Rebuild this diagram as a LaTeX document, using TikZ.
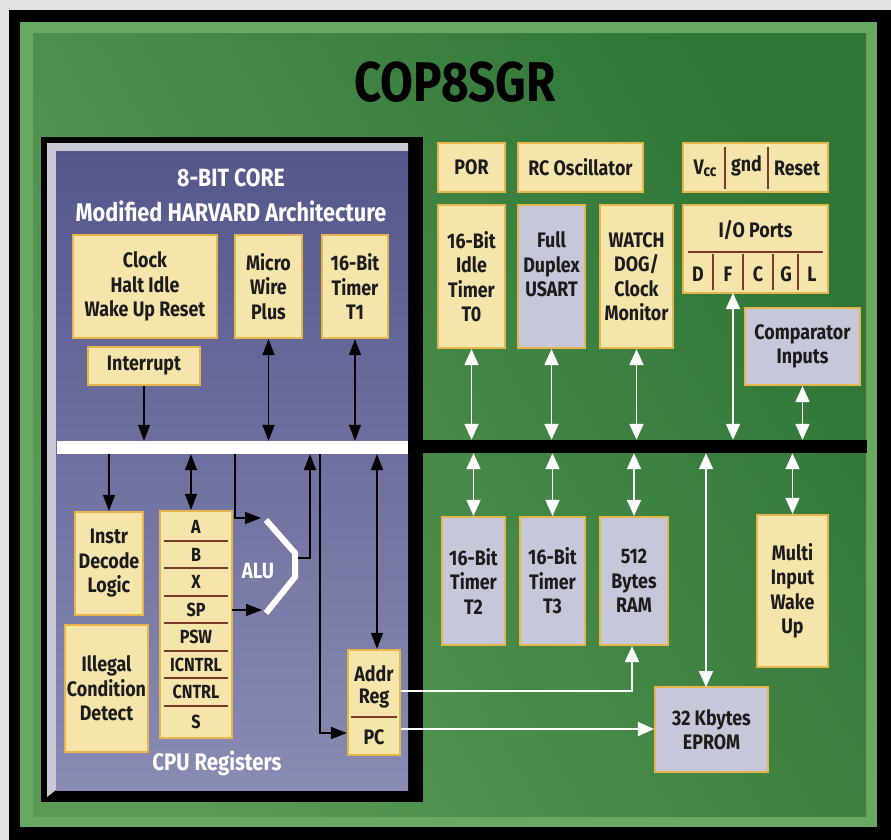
\documentclass[tikz,border=0pt]{standalone}
\usepackage{fontspec}
\setmainfont{Fira Sans}
\newfontfamily\cf[FakeStretch=0.85]{Fira Sans}
\usetikzlibrary{arrows.meta,calc}
\definecolor{paper}{HTML}{E2E2E2}
\definecolor{greenrim}{HTML}{67A862}
\definecolor{greenA}{HTML}{5A9A56}
\definecolor{greenB}{HTML}{2F7637}
\definecolor{coreA}{HTML}{55578C}
\definecolor{coreB}{HTML}{8A8BB3}
\definecolor{coreHL}{HTML}{C9CAD6}
\definecolor{creamfill}{HTML}{F5E5AB}
\definecolor{creamedge}{HTML}{E6B54C}
\definecolor{greyfill}{HTML}{C6C8DA}
\definecolor{txt}{HTML}{1C1C1C}
\definecolor{divc}{HTML}{7A3A28}
\newcommand\bx[7]{\node[#2, minimum width={#5-#3}, minimum height={#6-#4}] (#1) at ({(#3+#5)/2},{(#4+#6)/2}) {#7};}
\tikzset{
  bk/.tip={Triangle[length=16pt 0,width=12pt 0]},
  wt/.tip={Triangle[length=16pt 0,width=14pt 0]},
  cream/.style={fill=creamfill, draw=creamedge, line width=2.2pt, inner sep=0pt, align=center, text=txt,
    font=\cf\bfseries\fontsize{21}{24.5}\selectfont},
  grey/.style={cream, fill=greyfill},
  btxt/.style={inner sep=0pt, align=center, text=txt, font=\cf\bfseries\fontsize{21}{22}\selectfont},
  rtxt/.style={inner sep=0pt, align=center, text=txt, minimum width=72pt, font=\cf\bfseries\fontsize{19}{20}\selectfont},
  wtxt/.style={inner sep=0pt, text=white, font=\cf\bfseries\fontsize{24}{28}\selectfont},
  divl/.style={draw=divc, line width=1.1pt},
  barr/.style={draw=black, line width=1.5pt},
  warr/.style={draw=white, line width=1.8pt},
}
\begin{document}
\begin{tikzpicture}[x=1pt,y=-1pt]
\useasboundingbox (0,0) rectangle (891,840);
% backgrounds
\fill[paper] (0,0) rectangle (891,840);
\fill[black] (9,10) rectangle (891,840);
\fill[greenrim] (20,22) rectangle (877,827);
\shade[left color=greenA, right color=greenB, shading angle=120] (33,34) rectangle (866,816);
% title
\node[inner sep=0pt, text=black, font=\cf\bfseries\fontsize{56}{60}\selectfont, anchor=base] (title) at (455,102) {COP8SGR};
% core panel
\fill[black] (41,137) rectangle (423,802);
\fill[coreHL] (47,143) -- (408,143) -- (408,151) -- (56,151) -- (56,790) -- (47,797) -- cycle;
\shade[top color=coreA, bottom color=coreB] (56,151) rectangle (408,790);
\node[wtxt, font=\cf\bfseries\fontsize{25}{28}\selectfont] (core) at (231,178) {8-BIT CORE};
\node[wtxt, font=\cf\bfseries\fontsize{25.5}{28}\selectfont] (harv) at (231,211) {Modified HARVARD Architecture};
\node[wtxt] (cpureg) at (217,763) {CPU Registers};
% buses
\node[fill=white, inner sep=0pt, minimum width=351pt, minimum height=13pt] (wbus) at (232.5,447.5) {};
\node[fill=black, inner sep=0pt, minimum width=459pt, minimum height=13pt] (bbus) at (637.5,446.5) {};
% core boxes
\bx{clk}{cream}{73}{235}{217}{338}{Clock\\Halt Idle\\Wake Up Reset}
\bx{mw}{cream}{235}{235}{302}{338}{Micro\\Wire\\Plus}
\bx{t1}{cream}{322}{235}{388}{338}{16-Bit\\Timer\\T1}
\bx{intr}{cream}{88}{347}{200}{385}{Interrupt}
\bx{instr}{cream}{75}{512}{143}{615}{Instr\\Decode\\Logic}
\bx{ill}{cream}{65}{625}{148}{752}{Illegal\\Condition\\Detect}
\bx{regs}{cream}{160}{511}{232}{738}{}
\node[rtxt] (rA) at (196,527) {A};
\node[rtxt] (rB) at (196,555) {B};
\node[rtxt] (rX) at (196,582) {X};
\node[rtxt] (rSP) at (196,610) {SP};
\node[rtxt] (rPSW) at (196,637) {PSW};
\node[rtxt] (rICN) at (196,665) {ICNTRL};
\node[rtxt] (rCN) at (196,692) {CNTRL};
\node[rtxt] (rS) at (196,722) {S};
\foreach \yy in {541,568,596,623,651,678,706} \draw[divl] (164,\yy) -- (228,\yy);
\bx{apc}{cream}{348}{650}{400}{755}{}
\node[btxt] (addr) at (374,687) {Addr\\Reg};
\node[btxt] (pc) at (374,737) {PC};
\draw[divl] (351,717) -- (397,717);
% ALU
\draw[white, line width=6pt, line join=miter] (266,520) -- (295,553) -- (295,577) -- (266,613);
\node[wtxt, font=\cf\bfseries\fontsize{22}{24}\selectfont] (alu) at (258,571) {ALU};
\coordinate (aluIn1) at (261,518);
\coordinate (aluIn2) at (262,610);
\coordinate (aluOut) at (298,558);
\coordinate (tapALU) at (235,454);
\coordinate (tapOut) at (310,454);
\coordinate (tapPC) at (320,454);
\coordinate (tapAddr) at (377,454);
% core arrows
\draw[barr,-bk] (intr.south) -- (intr.south |- wbus.north);
\draw[barr,bk-bk] (mw.south) -- (mw.south |- wbus.north);
\draw[barr,bk-bk] (t1.south) -- (t1.south |- wbus.north);
\draw[barr,-bk] (instr.north |- wbus.south) -- (instr.north);
\draw[barr,bk-bk] ([xshift=-5pt]regs.north |- wbus.south) -- ([xshift=-5pt]regs.north);
\draw[barr,-bk] (tapALU) |- (aluIn1);
\draw[barr,-bk] (aluOut) -| (tapOut);
\draw[barr,-bk] (tapPC) |- ($(pc -| apc.west)+(0,-4)$);
\draw[barr,bk-bk] (tapAddr) -- (tapAddr |- apc.north);
\draw[barr,-bk] (rSP.east) -- (aluIn2);
% right side boxes
\bx{por}{cream}{438}{143}{505}{192}{POR}
\bx{rc}{cream}{518}{143}{643}{192}{RC Oscillator}
\bx{pwr}{cream}{683}{143}{828}{192}{}
\node[btxt] (vcc) at (705,168) {V\raisebox{-2pt}{\fontsize{16}{16}\selectfont cc}};
\node[btxt] (gnd) at (746.5,166) {gnd};
\node[btxt] (rst) at (797,168) {Reset};
\draw[divl] (725,147) -- (725,189);
\draw[divl] (768,147) -- (768,189);
\bx{io}{cream}{683}{205}{828}{293}{}
\node[btxt] (iot) at (755.5,230) {I/O Ports};
\draw[divl] (688,252) -- (823,252);
\foreach \xx in {713,743,773,798} \draw[divl] (\xx,254) -- (\xx,290);
\node[btxt] (pD) at (698,274) {D};
\node[btxt] (pF) at (728,274) {F};
\node[btxt] (pC) at (758,274) {C};
\node[btxt] (pG) at (786,274) {G};
\node[btxt] (pL) at (812,274) {L};
\bx{t0}{cream}{438}{205}{505}{348}{16-Bit\\Idle\\Timer\\T0}
\bx{usart}{grey}{518}{205}{585}{348}{Full\\Duplex\\USART\\\mbox{}}
\bx{wd}{cream}{600}{205}{673}{348}{WATCH\\DOG/\\Clock\\Monitor}
\bx{comp}{grey}{745}{308}{860}{385}{Comparator\\Inputs}
\bx{t2}{grey}{442}{517}{505}{645}{16-Bit\\Timer\\T2}
\bx{t3}{grey}{520}{517}{585}{645}{16-Bit\\Timer\\T3}
\bx{ram}{grey}{600}{517}{668}{645}{512\\Bytes\\RAM}
\bx{multi}{cream}{757}{515}{828}{667}{Multi\\Input\\Wake\\Up}
\bx{eprom}{grey}{655}{687}{768}{772}{32 Kbytes\\EPROM}
\coordinate (ioTap) at (733,293);
\coordinate (epTap) at (706,687);
% white arrows
\draw[warr,wt-wt] (t0.south) -- (t0.south |- bbus.north);
\draw[warr,wt-wt] (usart.south) -- (usart.south |- bbus.north);
\draw[warr,wt-wt] (wd.south) -- (wd.south |- bbus.north);
\draw[warr,wt-wt] (ioTap) -- (ioTap |- bbus.north);
\draw[warr,wt-wt] (comp.south) -- (comp.south |- bbus.north);
\draw[warr,wt-wt] (t2.north |- bbus.south) -- (t2.north);
\draw[warr,wt-wt] (t3.north |- bbus.south) -- (t3.north);
\draw[warr,wt-wt] (ram.north |- bbus.south) -- (ram.north);
\draw[warr,wt-wt] (epTap |- bbus.south) -- (epTap);
\draw[warr,wt-wt] (multi.north |- bbus.south) -- (multi.north);
\draw[warr,-wt] ($(addr -| apc.east)+(0,4)$) -| ([xshift=-2pt]ram.south);
\draw[warr,-wt] ($(pc -| apc.east)+(0,-8)$) -- ($(pc -| eprom.west)+(0,-8)$);
\end{tikzpicture}
\end{document}
